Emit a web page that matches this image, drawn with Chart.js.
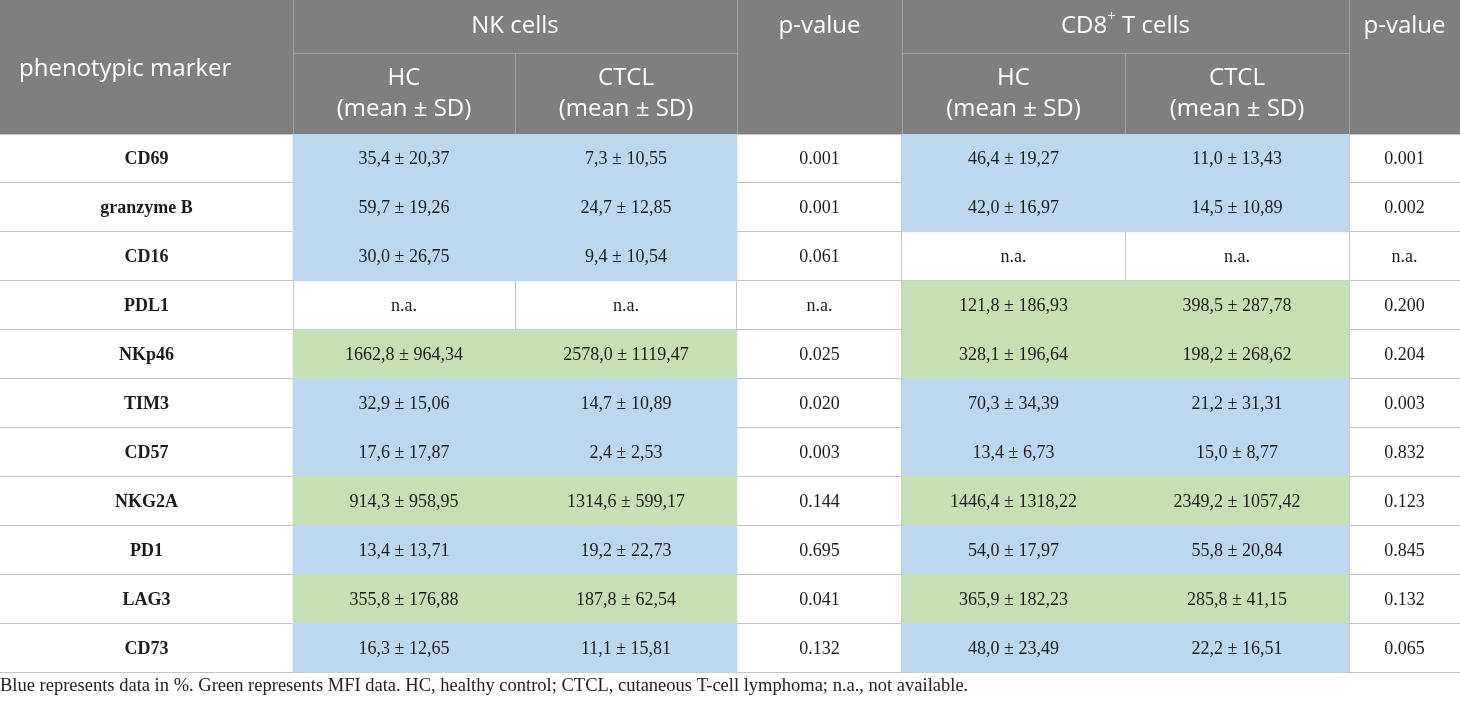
<!DOCTYPE html>
<html>
<head>
<meta charset="utf-8">
<title>NK and CD8+ T cell markers</title>
<script src="https://cdn.jsdelivr.net/npm/chart.js@4.4.1/dist/chart.umd.min.js"></script>
<style>
  html, body { margin: 0; padding: 0; background: #fff; }
  #wrap { width: 1460px; height: 702px; }
</style>
</head>
<body>
<div id="wrap"><canvas id="tbl" width="1460" height="702"></canvas></div>
<script>
// table data
const markers = ['CD69', 'granzyme B', 'CD16', 'PDL1', 'NKp46', 'TIM3', 'CD57', 'NKG2A', 'PD1', 'LAG3', 'CD73'];
const rowUnit = ['%', '%', '%', 'MFI', 'MFI', '%', '%', 'MFI', '%', 'MFI', '%'];

const nkHcMean   = [35.4, 59.7, 30.0, null, 1662.8, 32.9, 17.6, 914.3, 13.4, 355.8, 16.3];
const nkHcSd     = [20.37, 19.26, 26.75, null, 964.34, 15.06, 17.87, 958.95, 13.71, 176.88, 12.65];
const nkCtclMean = [7.3, 24.7, 9.4, null, 2578.0, 14.7, 2.4, 1314.6, 19.2, 187.8, 11.1];
const nkCtclSd   = [10.55, 12.85, 10.54, null, 1119.47, 10.89, 2.53, 599.17, 22.73, 62.54, 15.81];
const nkP        = [0.001, 0.001, 0.061, null, 0.025, 0.020, 0.003, 0.144, 0.695, 0.041, 0.132];

const cd8HcMean   = [46.4, 42.0, null, 121.8, 328.1, 70.3, 13.4, 1446.4, 54.0, 365.9, 48.0];
const cd8HcSd     = [19.27, 16.97, null, 186.93, 196.64, 34.39, 6.73, 1318.22, 17.97, 182.23, 23.49];
const cd8CtclMean = [11.0, 14.5, null, 398.5, 198.2, 21.2, 15.0, 2349.2, 55.8, 285.8, 22.2];
const cd8CtclSd   = [13.43, 10.89, null, 287.78, 268.62, 31.31, 8.77, 1057.42, 20.84, 41.15, 16.51];
const cd8P        = [0.001, 0.002, null, 0.200, 0.204, 0.003, 0.832, 0.123, 0.845, 0.132, 0.065];

const footnote = 'Blue represents data in %. Green represents MFI data. HC, healthy control; CTCL, cutaneous T-cell lymphoma; n.a., not available.';

// layout (column edges in x-scale units, header height in px)
const colEdges = [0, 293, 515, 737, 902, 1125, 1349, 1460];
const headerH = 134;
const headerSplit = 53;

const unitColor = { '%': '#bdd7ee', 'MFI': '#c5e0b4' };
const headBg = '#7f7f7f';
const headLine = '#a3a3a3';
const gridCol = '#c4c4c4';
const textCol = '#1b1b1b';
const serif = '"Liberation Serif", "DejaVu Serif", serif';
const sans = '"Open Sans", "Noto Sans", sans-serif';
const headSize = 24;

const na = 'n.a.';
const comma = (v, d) => v.toFixed(d).replace('.', ',');
const meanSd = (m, s) => m.map((v, i) => v == null ? na : comma(v, 1) + ' \u00b1 ' + comma(s[i], 2));
const pText = p => p.map(v => v == null ? na : v.toFixed(3));

// one column = one dataset; cell text + fill
const columns = [
  { text: markers, bold: true, fill: false },
  { text: meanSd(nkHcMean, nkHcSd), fill: true, src: nkHcMean },
  { text: meanSd(nkCtclMean, nkCtclSd), fill: true, src: nkCtclMean },
  { text: pText(nkP), fill: false },
  { text: meanSd(cd8HcMean, cd8HcSd), fill: true, src: cd8HcMean },
  { text: meanSd(cd8CtclMean, cd8CtclSd), fill: true, src: cd8CtclMean },
  { text: pText(cd8P), fill: false }
];

const datasets = columns.map((col, c) => ({
  data: markers.map(() => [colEdges[c], colEdges[c + 1]]),
  backgroundColor: markers.map((m, i) =>
    col.fill && col.src[i] != null ? unitColor[rowUnit[i]] : 'rgba(0,0,0,0)'),
  borderWidth: 0,
  grouped: false,
  barPercentage: 1,
  categoryPercentage: 1
}));

// header + cell text
const tablePlugin = {
  id: 'tableText',
  afterDatasetsDraw(chart) {
    const ctx = chart.ctx;
    ctx.save();
    ctx.textAlign = 'center';
    ctx.textBaseline = 'middle';
    ctx.fillStyle = textCol;
    columns.forEach((col, c) => {
      ctx.font = (col.bold ? 'bold ' : '') + '18px ' + serif;
      chart.getDatasetMeta(c).data.forEach((el, i) => {
        ctx.fillText(col.text[i], (el.x + el.base) / 2, el.y + 1);
      });
    });
    ctx.restore();
  },
  afterDraw(chart) {
    const ctx = chart.ctx;
    const x = chart.scales.x;
    const px = v => Math.round(x.getPixelForValue(v)) + 0.5;
    const L = x.getPixelForValue(colEdges[0]);
    const R = x.getPixelForValue(colEdges[colEdges.length - 1]);
    ctx.save();
    ctx.fillStyle = headBg;
    ctx.fillRect(L, 0, R - L, headerH);

    ctx.strokeStyle = headLine;
    ctx.lineWidth = 1;
    ctx.beginPath();
    [1, 3, 4, 6].forEach(k => { ctx.moveTo(px(colEdges[k]), 0); ctx.lineTo(px(colEdges[k]), headerH); });
    [2, 5].forEach(k => { ctx.moveTo(px(colEdges[k]), headerSplit); ctx.lineTo(px(colEdges[k]), headerH); });
    ctx.moveTo(px(colEdges[1]), headerSplit + 0.5); ctx.lineTo(px(colEdges[3]), headerSplit + 0.5);
    ctx.moveTo(px(colEdges[4]), headerSplit + 0.5); ctx.lineTo(px(colEdges[6]), headerSplit + 0.5);
    ctx.stroke();

    const big = headSize + 'px ' + sans;
    const small = Math.round(headSize * 0.62) + 'px ' + sans;
    ctx.fillStyle = '#ffffff';
    ctx.textBaseline = 'middle';
    ctx.font = big;
    ctx.textAlign = 'left';
    ctx.fillText('phenotypic marker', L + 19, 69);

    ctx.textAlign = 'center';
    const mid = (a, b) => (x.getPixelForValue(colEdges[a]) + x.getPixelForValue(colEdges[b])) / 2;
    ctx.fillText('NK cells', mid(1, 3), 26);
    ctx.fillText('p-value', mid(3, 4), 26);
    ctx.fillText('p-value', mid(6, 7), 26);
    [1, 2, 4, 5].forEach(k => {
      ctx.fillText(k % 3 === 1 ? 'HC' : 'CTCL', mid(k, k + 1), 78);
      ctx.fillText('(mean \u00b1 SD)', mid(k, k + 1), 109);
    });

    // CD8+ T cells with superscript
    const a = 'CD8', b = ' T cells';
    ctx.font = big;
    const wa = ctx.measureText(a).width, wb = ctx.measureText(b).width;
    ctx.font = small;
    const ws = ctx.measureText('+').width;
    const sx = mid(4, 6) - (wa + ws + wb) / 2;
    ctx.textAlign = 'left';
    ctx.font = big;
    ctx.fillText(a, sx, 26);
    ctx.font = small;
    ctx.fillText('+', sx + wa, 17);
    ctx.font = big;
    ctx.fillText(b, sx + wa + ws, 26);
    ctx.restore();
  }
};

new Chart(document.getElementById('tbl'), {
  type: 'bar',
  data: { labels: markers, datasets: datasets },
  options: {
    responsive: false,
    animation: false,
    indexAxis: 'y',
    layout: { padding: { top: headerH, left: 0, right: 0, bottom: 0 } },
    scales: {
      x: {
        type: 'linear',
        min: colEdges[0],
        max: colEdges[colEdges.length - 1],
        z: 1,
        afterBuildTicks: s => { s.ticks = colEdges.slice(1, -1).map(v => ({ value: v })); },
        afterFit: s => { s.height = 0; },
        ticks: { display: false },
        grid: { color: gridCol, drawTicks: false },
        border: { display: false }
      },
      y: {
        type: 'category',
        offset: true,
        z: 1,
        afterFit: s => { s.width = 0; },
        ticks: { display: false },
        grid: { offset: true, color: gridCol, drawTicks: false },
        border: { display: false }
      }
    },
    plugins: {
      legend: { display: false },
      tooltip: { enabled: false },
      title: {
        display: true,
        position: 'bottom',
        align: 'start',
        text: footnote,
        color: '#222',
        font: { family: serif, size: 18.5, weight: 'normal', lineHeight: 1.1 },
        padding: { top: 3, bottom: 6 }
      }
    }
  },
  plugins: [tablePlugin]
});
</script>
</body>
</html>
